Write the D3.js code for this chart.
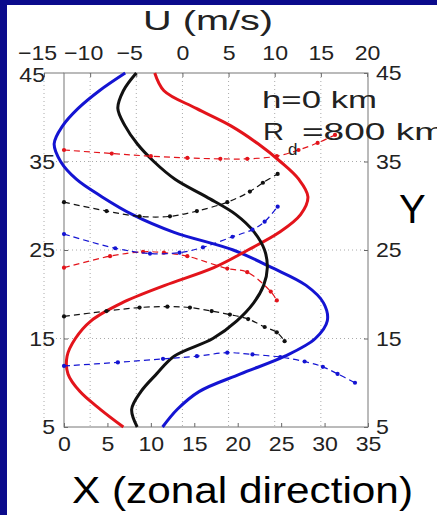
<!DOCTYPE html>
<html>
<head>
<meta charset="utf-8">
<script src="https://cdn.jsdelivr.net/npm/d3@7"></script>
<style>
  html, body { margin: 0; padding: 0; background: #0b0b8c; }
  svg { display: block; }
  text { font-family: "Liberation Sans", Arial, Helvetica, sans-serif; }
</style>
</head>
<body>
<svg id="chart" width="437" height="515"></svg>
<script>
// U profiles (top axis) against Y
const profileY = [45, 43, 41, 39, 37, 35, 33, 31, 29, 27, 25, 23, 21, 19, 17, 15, 13, 11, 9, 7, 5];
const uBlack = [-5.0, -6.4, -7.0, -6.2, -4.9, -3.1, -0.8, 2.6, 5.8, 7.8, 8.9, 9.2, 8.8, 7.7, 5.9, 3.3, -0.9, -2.8, -4.5, -5.5, -4.9];
const uRed   = [-3.0, -2.0, 1.5, 5.3, 8.2, 10.6, 12.6, 13.6, 12.8, 10.5, 7.1, 3.4, -1.9, -6.6, -9.9, -11.6, -12.5, -12.4, -11.1, -8.9, -6.4];
const uBlue  = [-6.2, -9.0, -11.3, -13.0, -13.9, -13.2, -11.5, -8.7, -5.4, -0.9, 5.5, 9.7, 13.4, 15.3, 15.7, 14.4, 11.1, 6.3, 1.8, -0.55, -2.15];

// dashed tracks (bottom axis X) against Y
const redUpperX = [0, 5.5, 10, 14.2, 18, 21.1, 24.5, 27, 29.2, 31.2];
const redUpperY = [36.3, 35.9, 35.6, 35.4, 35.3, 35.3, 35.6, 36.3, 37.1, 38.0];
const redLowerX = [0, 5.3, 9.1, 11.5, 14.2, 18.8, 21.1, 23.8, 24.5];
const redLowerY = [23.0, 24.3, 24.8, 24.7, 24.3, 22.9, 22.5, 20.3, 19.3];
const blackUpperX = [0, 4.9, 8.7, 12.2, 15.3, 18.8, 21.4, 22.9, 24.6];
const blackUpperY = [30.4, 29.4, 28.8, 28.8, 29.4, 30.4, 31.6, 32.6, 33.6];
const blackLowerX = [0, 4.9, 8.7, 11.9, 14.5, 17.0, 19.1, 21.2, 23.1, 24.5, 25.4];
const blackLowerY = [17.5, 18.1, 18.5, 18.6, 18.5, 18.1, 17.7, 17.2, 16.3, 15.7, 14.7];
const blueUpperX = [0, 5.9, 9.9, 13.3, 16.0, 19.4, 21.7, 23.1, 24.6];
const blueUpperY = [26.8, 25.2, 24.6, 24.7, 25.3, 26.5, 27.3, 28.2, 29.9];
const blueLowerX = [0, 6.2, 11.4, 15.3, 18.8, 21.7, 24.9, 27.7, 29.8, 31.5, 33.5];
const blueLowerY = [11.9, 12.3, 12.7, 13.0, 13.4, 13.2, 12.9, 12.4, 11.8, 11.0, 10.0];

const uTicks = [-15, -10, -5, 0, 5, 10, 15, 20];
const xTicks = [0, 5, 10, 15, 20, 25, 30, 35];
const yTicks = [5, 15, 25, 35, 45];

const RED = '#e3141b', BLUE = '#1414d2', BLACK = '#111';

const svg = d3.select('#chart');

// slide background with the pasted white figure
svg.append('rect').attr('width', 437).attr('height', 515).attr('fill', '#0b0b8c');
svg.append('rect').attr('x', 7).attr('y', 5).attr('width', 430).attr('height', 510).attr('fill', '#fff');

const uScale = d3.scaleLinear().domain([-15, 20]).range([44, 367]);
const xScale = d3.scaleLinear().domain([0, 35]).range([64, 368]);
const yScale = d3.scaleLinear().domain([5, 45]).range([427, 73]);

// grid
const grid = svg.append('g').attr('stroke', '#aaa').attr('stroke-dasharray', '1,3');
grid.selectAll('.vg').data(uTicks.slice(0, -1)).enter().append('line')
    .attr('x1', d => uScale(d)).attr('x2', d => uScale(d))
    .attr('y1', yScale(45)).attr('y2', yScale(5));
grid.selectAll('.hg').data(yTicks.slice(1, -1)).enter().append('line')
    .attr('x1', uScale(-15)).attr('x2', xScale(35))
    .attr('y1', d => yScale(d)).attr('y2', d => yScale(d));

// stretch figure text horizontally like the pasted picture
function stretch(sel, k) {
    sel.each(function() {
        const w = this.getComputedTextLength();
        d3.select(this).attr('textLength', w * k).attr('lengthAdjust', 'spacingAndGlyphs');
    });
}

function styleAxis(g) {
    g.select('.domain').remove();
    g.selectAll('.tick line').attr('stroke', '#666');
    g.selectAll('.tick text').attr('fill', '#222').style('font-size', '21px');
    stretch(g.selectAll('.tick text'), 1.1);
}

// U axis on top
svg.append('g').attr('transform', 'translate(0,73)')
    .call(d3.axisTop(uScale).tickValues(uTicks).tickSizeInner(-4).tickSizeOuter(0).tickPadding(13))
    .call(styleAxis)
    .selectAll('.tick text').attr('dx', d => d < 0 ? -7 : 0);

// X axis on bottom
svg.append('g').attr('transform', 'translate(0,427)')
    .call(d3.axisBottom(xScale).tickValues(xTicks).tickSizeInner(-4).tickSizeOuter(0).tickPadding(9))
    .call(styleAxis);

// Y axes
svg.append('g').attr('transform', 'translate(64,0)')
    .call(d3.axisLeft(yScale).tickValues(yTicks.slice(0, -1)).tickSizeInner(-4).tickSizeOuter(0).tickPadding(9))
    .call(styleAxis);
svg.append('g').attr('transform', 'translate(44,2)')
    .call(d3.axisLeft(yScale).tickValues([45]).tickSize(0).tickPadding(-1))
    .call(styleAxis);
svg.append('g').attr('transform', 'translate(368,0)')
    .call(d3.axisRight(yScale).tickValues(yTicks).tickSizeInner(-4).tickSizeOuter(0).tickPadding(8))
    .call(styleAxis);

// frame
svg.append('rect')
    .attr('x', xScale(0)).attr('y', yScale(45))
    .attr('width', xScale(35) - xScale(0)).attr('height', yScale(5) - yScale(45))
    .attr('fill', 'none').attr('stroke', '#777');
svg.append('line')
    .attr('x1', uScale(-15)).attr('x2', xScale(0))
    .attr('y1', yScale(45)).attr('y2', yScale(45)).attr('stroke', '#777');

// solid U profiles
const profLine = d3.line()
    .x(d => uScale(d[0])).y(d => yScale(d[1]))
    .curve(d3.curveCatmullRom);
[[uBlue, BLUE], [uRed, RED], [uBlack, BLACK]].forEach(([vals, col]) => {
    svg.append('path')
        .attr('d', profLine(vals.map((v, i) => [v, profileY[i]])))
        .attr('fill', 'none').attr('stroke', col).attr('stroke-width', 3)
        .attr('stroke-linejoin', 'round');
});

// dashed tracks with markers
const trackLine = d3.line()
    .x(d => xScale(d[0])).y(d => yScale(d[1]))
    .curve(d3.curveCatmullRom);
const tracks = [
    [redUpperX, redUpperY, RED],
    [redLowerX, redLowerY, RED],
    [blackUpperX, blackUpperY, BLACK],
    [blackLowerX, blackLowerY, BLACK],
    [blueUpperX, blueUpperY, BLUE],
    [blueLowerX, blueLowerY, BLUE]
];
tracks.forEach(([xs, ys, col]) => {
    const pts = xs.map((x, i) => [x, ys[i]]);
    svg.append('path')
        .attr('d', trackLine(pts))
        .attr('fill', 'none').attr('stroke', col).attr('stroke-width', 1.2)
        .attr('stroke-dasharray', '6,4');
    svg.selectAll(null).data(pts).enter().append('circle')
        .attr('cx', d => xScale(d[0])).attr('cy', d => yScale(d[1]))
        .attr('r', 2.1).attr('fill', col);
});

// figure labels
svg.append('text').attr('x', 208).attr('y', 30).attr('text-anchor', 'middle')
    .style('font-size', '28px').attr('fill', '#222')
    .attr('textLength', 130).attr('lengthAdjust', 'spacingAndGlyphs')
    .text('U (m/s)');
svg.append('text').attr('x', 262).attr('y', 108)
    .style('font-size', '24px').attr('fill', '#222')
    .attr('textLength', 115).attr('lengthAdjust', 'spacingAndGlyphs')
    .text('h=0 km');
svg.append('text').attr('x', 263).attr('y', 140)
    .style('font-size', '24px').attr('fill', '#222')
    .attr('textLength', 21).attr('lengthAdjust', 'spacingAndGlyphs')
    .text('R');
svg.append('text').attr('x', 288).attr('y', 155)
    .style('font-size', '17px').attr('fill', '#222')
    .text('d');
svg.append('text').attr('x', 302).attr('y', 140)
    .style('font-size', '24px').attr('fill', '#222')
    .attr('textLength', 143).attr('lengthAdjust', 'spacingAndGlyphs')
    .text('=800 km');

// slide titles
svg.append('text').attr('x', 72).attr('y', 503)
    .style('font-size', '36px').attr('fill', '#000')
    .attr('textLength', 341).attr('lengthAdjust', 'spacingAndGlyphs')
    .text('X (zonal direction)');
svg.append('text').attr('x', 399).attr('y', 223)
    .style('font-size', '40px').attr('fill', '#000')
    .text('Y');
</script>
</body>
</html>
